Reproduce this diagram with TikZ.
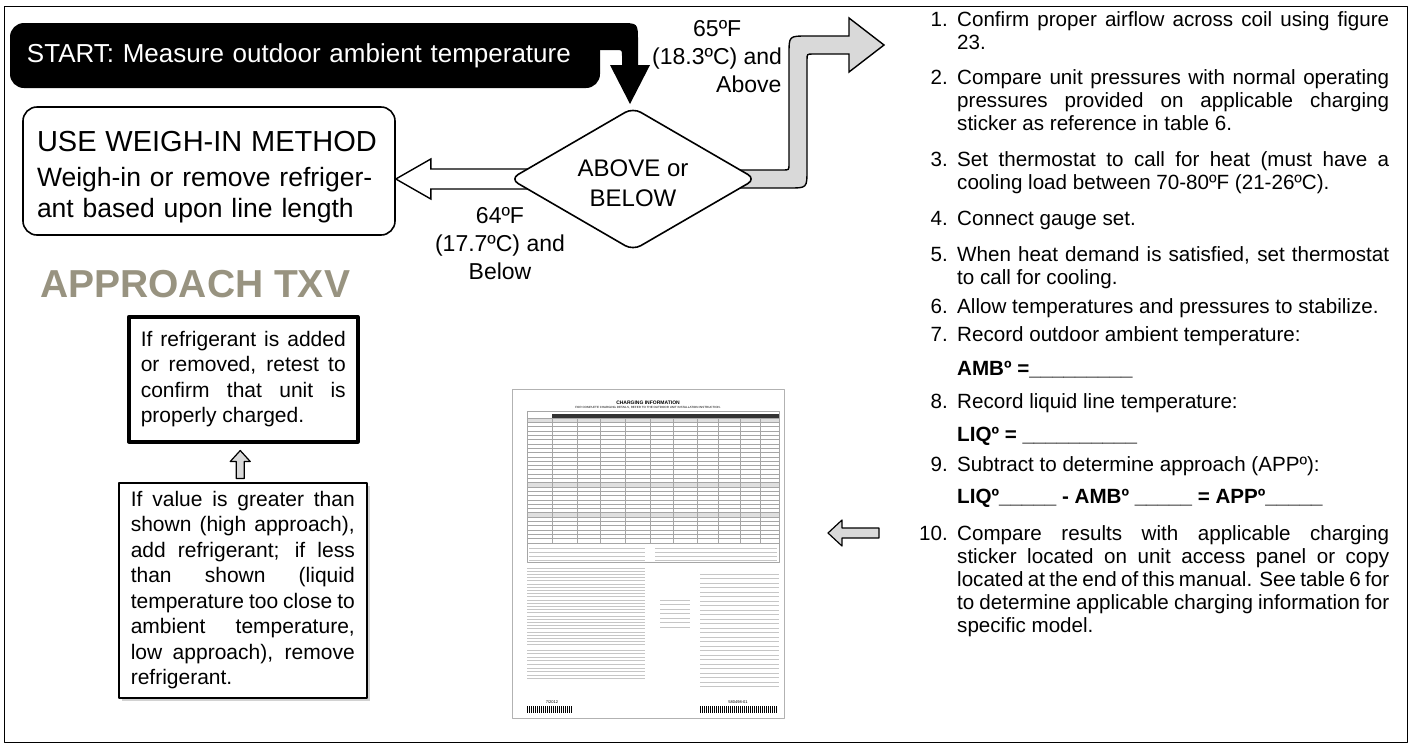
\documentclass[tikz,border=0pt]{standalone}
\usepackage{fontspec}
\setmainfont{Liberation Sans}
\usetikzlibrary{positioning,shapes.geometric,calc,shadows,backgrounds}
\hyphenpenalty=10000
\exhyphenpenalty=10000
\definecolor{txvgray}{RGB}{152,147,128}
\definecolor{arrowgray}{RGB}{217,217,217}

\begin{document}
\begin{tikzpicture}[x=1pt,y=-1pt,line join=round,
  startbox/.style={fill=black,text=white,rounded corners=14pt,minimum width=590pt,minimum height=65pt,
    text width=556pt,inner xsep=17pt,align=left,font=\fontsize{26}{30}\selectfont},
  methodbox/.style={draw,line width=1.6pt,rounded corners=14pt,minimum width=372pt,minimum height=128pt,
    text width=344pt,inner xsep=14pt,inner ysep=0pt,align=left,text height=33pt,
    font=\fontsize{26.5}{31}\selectfont},
  decision/.style={diamond,draw,line width=1.6pt,fill=white,rounded corners=9pt,minimum width=246pt,
    minimum height=143pt,shape aspect=1.72,inner sep=0pt,align=center,text height=55pt,
    font=\fontsize{24}{30}\selectfont},
  templabel/.style={inner sep=0pt,font=\fontsize{23}{28}\selectfont},
  notebox/.style={draw,fill=white,align=justify,inner xsep=12pt,font=\fontsize{21}{25.5}\selectfont},
  steptxt/.style={anchor=base west,text width=432pt,inner sep=0pt,align=justify,font=\fontsize{20.6}{23}\selectfont},
  stepnum/.style={anchor=base east,inner sep=0pt,font=\fontsize{20.6}{23}\selectfont},
  fillin/.style={anchor=base west,inner sep=0pt,font=\bfseries\fontsize{20.6}{23}\selectfont},
  openarrow/.style={draw,line width=1.4pt,fill=white},
  grayarrow/.style={draw,line width=1.4pt,fill=arrowgray},
  sheetline/.style={gray!70,line width=0.3pt},
  sheettext/.style={gray!45,line width=0.8pt}
]
\useasboundingbox (0,0) rectangle (1412,748);

% outer frame
\draw[line width=1.5pt] (4.5,6.5) rectangle (1407.5,742.5);

% start banner and the bent black arrow into the decision
\node[startbox] (start) at (305,55.5) {START: Measure outdoor ambient temperature};
\fill (575,23) -- (620,23) .. controls (638,23) .. (638,41) -- (638,65) -- (650,65) -- (630,104)
  -- (610,65) -- (622,65) -- (622,56) .. controls (622,50) .. (616,50) -- (575,50) -- cycle;

% decision
\node[decision] (dia) at (633,179) {ABOVE or\\BELOW};

% weigh-in box
\node[methodbox] (weigh) at (209,171) {\mbox{\fontsize{29}{33}\selectfont USE WEIGH-IN METHOD}\\[4pt]
  Weigh-in or remove refriger-\\ant based upon line length};

% temperature labels
\node[templabel,anchor=base west,align=left] (hitemp) at (652,92)
  {\hspace*{41pt}65ºF\\(18.3ºC) and\\\hspace*{64pt}Above};
\node[templabel,anchor=base,align=center] (lotemp) at (500,279) {64ºF\\(17.7ºC) and\\Below};

% block arrows behind the diamond
\coordinate (lftip) at (weigh.east |- dia.west);
\begin{scope}[on background layer]
\draw[openarrow] (lftip) -- ++(35,-20) -- ++(0,10) -- ++(130,0) -- ++(0,20) -- ++(-130,0) -- ++(0,10) -- cycle;
\draw[grayarrow] (726,170) -- (783,170) .. controls (789,170) .. (789,164) -- (789,54)
  .. controls (789,36) .. (807,36) -- (849,36) -- (849,18) -- (884,45) -- (849,72) -- (849,54)
  -- (813,54) .. controls (807,54) .. (807,60) -- (807,170) .. controls (807,188) .. (789,188)
  -- (726,188) -- cycle;
\end{scope}

% approach TXV side
\node[anchor=base west,inner sep=0pt,text=txvgray,font=\bfseries\fontsize{39}{44}\selectfont] (txv)
  at (40,297) {APPROACH TXV};
\node[notebox,line width=3.5pt,text width=205pt,minimum height=125pt,anchor=north west] (retest)
  at (127,315) {If refrigerant is added\linebreak or removed, retest to\linebreak confirm that unit is\linebreak properly charged.};
\node[notebox,line width=1.6pt,text width=224pt,minimum height=215pt,anchor=north west,
  drop shadow={shadow xshift=3pt,shadow yshift=-3pt,fill=gray!70}] (chk) at (118,482)
  {If value is greater than\linebreak shown (high approach),\linebreak add refrigerant; if less\linebreak
   than shown (liquid\linebreak temperature too close to\linebreak ambient temperature,\linebreak
   low approach), remove\linebreak refrigerant.};
\coordinate (uptip) at ($(retest.south)+(-3,7)$);
\draw[grayarrow,line width=1.2pt] (uptip) -- ++(10,11) -- ++(-6,0) -- ++(0,17) -- ++(-8,0) -- ++(0,-17) -- ++(-6,0) -- cycle;

% charging sticker
\node[draw=gray!60,line width=0.6pt,minimum width=272pt,minimum height=329pt,inner sep=0pt] (sheet) at (648,553.5) {};
\node[inner sep=0pt,font=\bfseries\fontsize{5}{5}\selectfont] (shtitle) at (648,403) {CHARGING INFORMATION};
\node[inner sep=0pt,font=\fontsize{3}{3}\selectfont] (shsub) at (648,408)
  {FOR COMPLETE CHARGING DETAILS, REFER TO THE OUTDOOR UNIT INSTALLATION INSTRUCTION.};
\fill[black!80] (552,414) rectangle (779,418);
\foreach \r in {0,15,22} \fill[gray!25] (527,418+4.3*\r) rectangle (779,422.3+4.3*\r);
\foreach \r in {0,...,29} \draw[sheetline] (527,418+4.3*\r) -- (779,418+4.3*\r);
\foreach \c in {552,577,600,625,650,673,697,718,740,760} \draw[sheetline] (\c,418) -- (\c,543);
\draw[sheetline] (527,411) rectangle (779,562);
\foreach \t in {0,...,3} {
  \draw[sheettext] (529,548+4*\t) -- (645,548+4*\t);
  \draw[sheettext] (655,548+4*\t) -- (777,548+4*\t);
}
\foreach \t in {0,...,24} \draw[sheettext] (527,568+3.2*\t) -- (645,568+3.2*\t);
\foreach \t in {0,...,25} \draw[sheettext] (700,574+4.5*\t) -- (779,574+4.5*\t);
\foreach \t in {0,...,6} \draw[sheettext] (660,600+4.5*\t) -- (690,600+4.5*\t);
\foreach \t in {0,...,8} \draw[sheettext] (527,650+3.6*\t) -- (645,650+3.6*\t);
\node[inner sep=0pt,font=\fontsize{4}{4}\selectfont] (shdate) at (552,702) {7/2012};
\node[inner sep=0pt,font=\fontsize{4}{4}\selectfont] (shpart) at (738,702) {580498-01};
\foreach \b in {0,...,22} \fill (527+2*\b,706) rectangle ++(1.1,7);
\foreach \b in {0,...,38} \fill (700+2*\b,706) rectangle ++(1.1,7);

% pointer to the sticker
\draw[grayarrow,line width=1.2pt] (828,533) -- (842,520) -- (842,528) -- (879,528) -- (879,538)
  -- (842,538) -- (842,546) -- cycle;

% steps
\node[stepnum] (n1) at (948,26) {1.};
\node[steptxt] (s1) at (957,26) {Confirm proper airflow across coil using figure\linebreak 23.};
\node[stepnum] (n2) at (948,84) {2.};
\node[steptxt] (s2) at (957,84) {Compare unit pressures with normal operating\linebreak pressures provided on applicable charging\linebreak sticker as reference in table 6.};
\node[stepnum] (n3) at (948,166) {3.};
\node[steptxt] (s3) at (957,166) {Set thermostat to call for heat (must have a\linebreak cooling load between 70-80ºF (21-26ºC).};
\node[stepnum] (n4) at (948,225) {4.};
\node[steptxt] (s4) at (957,225) {Connect gauge set.};
\node[stepnum] (n5) at (948,261) {5.};
\node[steptxt] (s5) at (957,261) {When heat demand is satisfied, set thermostat\linebreak to call for cooling.};
\node[stepnum] (n6) at (948,313) {6.};
\node[steptxt] (s6) at (957,313) {Allow temperatures and pressures to stabilize.};
\node[stepnum] (n7) at (948,341) {7.};
\node[steptxt] (s7) at (957,341) {Record outdoor ambient temperature:};
\node[fillin] (amb) at (957,375) {AMBº =\_\_\_\_\_\_\_\_\_};
\node[stepnum] (n8) at (948,408) {8.};
\node[steptxt] (s8) at (957,408) {Record liquid line temperature:};
\node[fillin] (liq) at (957,441) {LIQº = \_\_\_\_\_\_\_\_\_\_};
\node[stepnum] (n9) at (948,471) {9.};
\node[steptxt] (s9) at (957,471) {Subtract to determine approach (APPº):};
\node[fillin] (app) at (957,503) {LIQº\_\_\_\_\_ - AMBº \_\_\_\_\_ = APPº\_\_\_\_\_};
\node[stepnum] (n10) at (948,540) {10.};
\node[steptxt] (s10) at (957,540) {Compare results with applicable charging\linebreak sticker located on unit access panel or copy\linebreak located at the end of this manual. See table 6 for\linebreak to determine applicable charging information for\linebreak specific model.};

\end{tikzpicture}
\end{document}
